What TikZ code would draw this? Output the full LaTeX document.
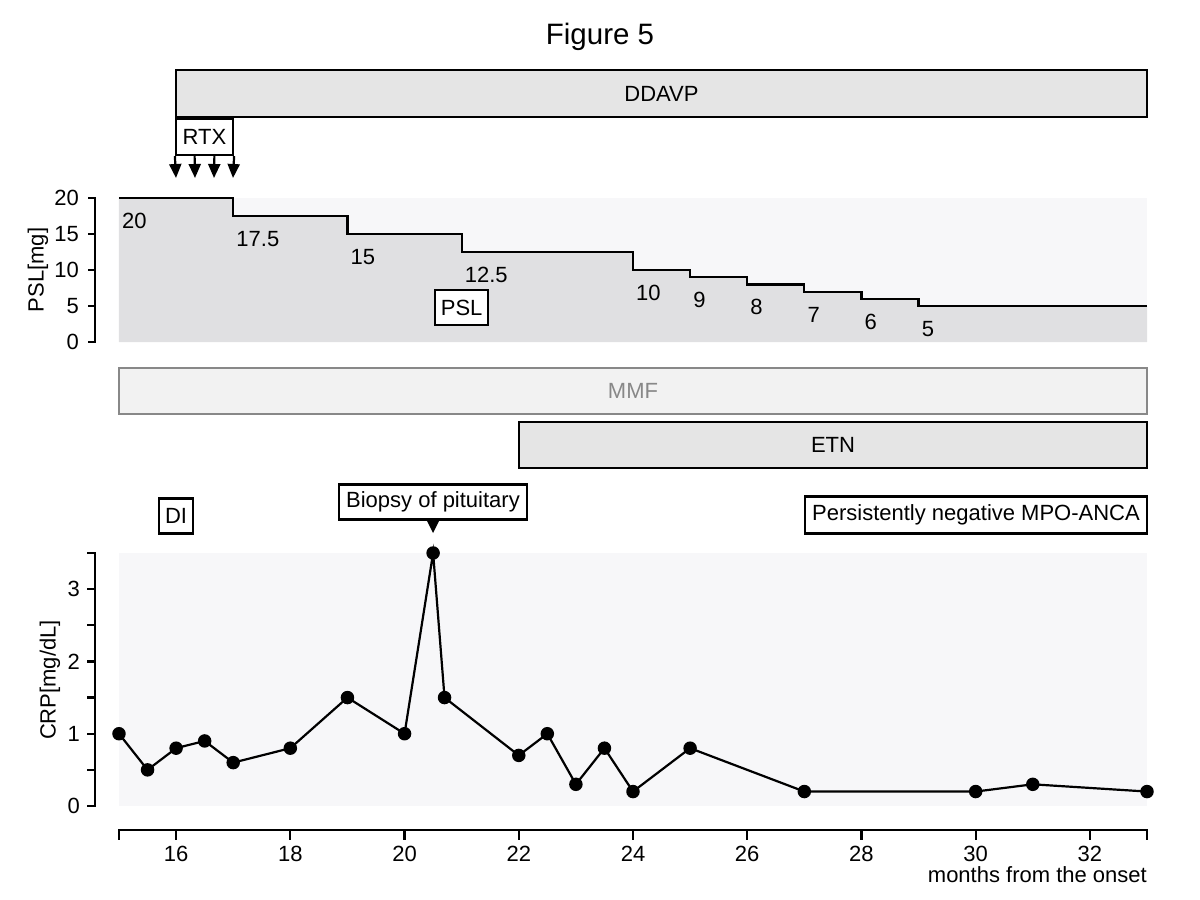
\documentclass[tikz,border=0pt]{standalone}
\usepackage{fontspec}
\setmainfont{Liberation Sans}
\usetikzlibrary{arrows.meta,calc}
\definecolor{bgc}{HTML}{F7F7F9}
\definecolor{pslc}{HTML}{E0E0E2}
\definecolor{barc}{HTML}{E5E5E5}
\definecolor{mmff}{HTML}{F2F2F2}
\definecolor{mmfd}{HTML}{888888}
\begin{document}
\begin{tikzpicture}[x=1pt,y=-1pt,
  font=\fontsize{22}{26}\selectfont,
  barbox/.style={draw=black, line width=2.2pt, fill=barc, inner sep=0pt},
  labbox/.style={draw=black, line width=2.2pt, fill=white, inner sep=0pt},
  axisline/.style={line width=2.5pt, line cap=rect},
  tickline/.style={line width=2.2pt},
  stepline/.style={line width=2.2pt, line join=miter},
  dataline/.style={line width=2.2pt},
  dot/.style={circle, fill=black, inner sep=0pt, minimum size=13.5pt},
  vallab/.style={anchor=west, inner sep=0pt, xshift=3pt, yshift=-23pt},
  rtxarrow/.style={line width=2.2pt, -{Triangle[width=12pt,length=14pt]}},
]
\useasboundingbox (0,0) rectangle (1200,900);

% title
\node[font=\fontsize{29.5}{34}\selectfont] (title) at (600,37) {Figure 5};

% DDAVP bar
\node[barbox, minimum width=971pt, minimum height=47pt] (ddavp) at (661.5,93.5) {DDAVP};

% RTX
\node[labbox, minimum width=57pt, minimum height=36pt] (rtx) at (204.5,137) {RTX};
\coordinate (r1) at (176,178);
\coordinate (r2) at (195,178);
\coordinate (r3) at (214,178);
\coordinate (r4) at (233,178);
\draw[rtxarrow] (rtx.south west) -- (r1);
\draw[rtxarrow] ($(rtx.south west)!0.333!(rtx.south east)$) -- (r2);
\draw[rtxarrow] ($(rtx.south west)!0.667!(rtx.south east)$) -- (r3);
\draw[rtxarrow] (rtx.south east) -- (r4);

% PSL panel
\fill[bgc] (119,198) rectangle (1147,342);
\begin{scope}[shift={(-737.667pt,-342pt)}, x=57.111pt, y=7.2pt]
  \fill[pslc] (15,0) -- (15,20) -- (17,20) -- (17,17.5) -- (19,17.5) -- (19,15) -- (21,15)
    -- (21,12.5) -- (24,12.5) -- (24,10) -- (25,10) -- (25,9) -- (26,9) -- (26,8)
    -- (27,8) -- (27,7) -- (28,7) -- (28,6) -- (29,6) -- (29,5) -- (33,5) -- (33,0) -- cycle;
  \draw[stepline] (15,20) -- (17,20) -- (17,17.5) -- (19,17.5) -- (19,15) -- (21,15)
    -- (21,12.5) -- (24,12.5) -- (24,10) -- (25,10) -- (25,9) -- (26,9) -- (26,8)
    -- (27,8) -- (27,7) -- (28,7) -- (28,6) -- (29,6) -- (29,5) -- (33,5);
  \foreach \m/\v/\t [count=\i] in {15/20/20, 17/17.5/17.5, 19/15/15, 21/12.5/12.5, 24/10/10,
      25/9/9, 26/8/8, 27/7/7, 28/6/6, 29/5/5}
    \node[vallab] (v\i) at (\m,\v) {\t};
  \node[labbox, minimum width=53pt, minimum height=35pt] (psl) at (21,4.8) {PSL};
\end{scope}

% PSL axis
\draw[axisline] (95,198) -- (95,342);
\foreach \v/\y in {0/342, 5/306, 10/270, 15/234, 20/198} {
  \draw[tickline] (88,\y) -- (95,\y);
  \node[anchor=east, inner sep=0pt] (pt\v) at (79,\y) {\v};
}
\node[rotate=90] (psllab) at (38,270) {PSL[mg]};

% MMF and ETN
\node[draw=mmfd, line width=2.2pt, fill=mmff, text=mmfd, inner sep=0pt,
      minimum width=1028pt, minimum height=46pt] (mmf) at (633,391) {MMF};
\node[barbox, minimum width=628pt, minimum height=46pt] (etn) at (833,445) {ETN};

% event labels
\node[labbox, minimum width=34pt, minimum height=35pt] (di) at (176,516) {DI};
\node[labbox, minimum width=188pt, minimum height=35pt] (biopsy) at (433,502) {Biopsy of pituitary};
\fill (427,521) -- (439,521) -- (433,533) -- cycle;
\node[labbox, minimum width=342pt, minimum height=37pt] (anca) at (976,515) {Persistently negative MPO-ANCA};

% CRP panel
\fill[bgc] (119,553) rectangle (1147,806);
\begin{scope}[shift={(-737.667pt,-806pt)}, x=57.111pt, y=72.286pt]
  \foreach \m/\v [count=\i] in {15/1, 15.5/0.5, 16/0.8, 16.5/0.9, 17/0.6, 18/0.8, 19/1.5,
      20/1, 20.5/3.5, 20.7/1.5, 22/0.7, 22.5/1, 23/0.3, 23.5/0.8, 24/0.2, 25/0.8,
      27/0.2, 30/0.2, 31/0.3, 33/0.2}
    \coordinate (p\i) at (\m,\v);
\end{scope}
\draw[dataline] (p1) \foreach \i in {2,...,20} { -- (p\i) };
\foreach \i in {1,...,20} \node[dot] (d\i) at (p\i) {};

% CRP axis
\draw[axisline] (95,553) -- (95,806);
\foreach \y in {806, 769.857, 733.714, 697.571, 661.429, 625.286, 589.143, 553}
  \draw[tickline] (87,\y) -- (95,\y);
\foreach \v/\y in {0/806, 1/733.714, 2/661.429, 3/589.143}
  \node[anchor=east, inner sep=0pt] (ct\v) at (80,\y) {\v};
\node[rotate=90] (crplab) at (50,680) {CRP[mg/dL]};

% x axis
\draw[axisline] (119,830) -- (1147,830);
\foreach \m in {15,16,18,20,22,24,26,28,30,32,33}
  \draw[tickline] ({119+(\m-15)*57.111},830) -- ({119+(\m-15)*57.111},840);
\foreach \m in {16,18,20,22,24,26,28,30,32}
  \node[inner sep=0pt] (xt\m) at ({119+(\m-15)*57.111},854) {\m};
\node[anchor=east, inner sep=0pt] (xlab) at (1147,875) {months from the onset};
\end{tikzpicture}
\end{document}
